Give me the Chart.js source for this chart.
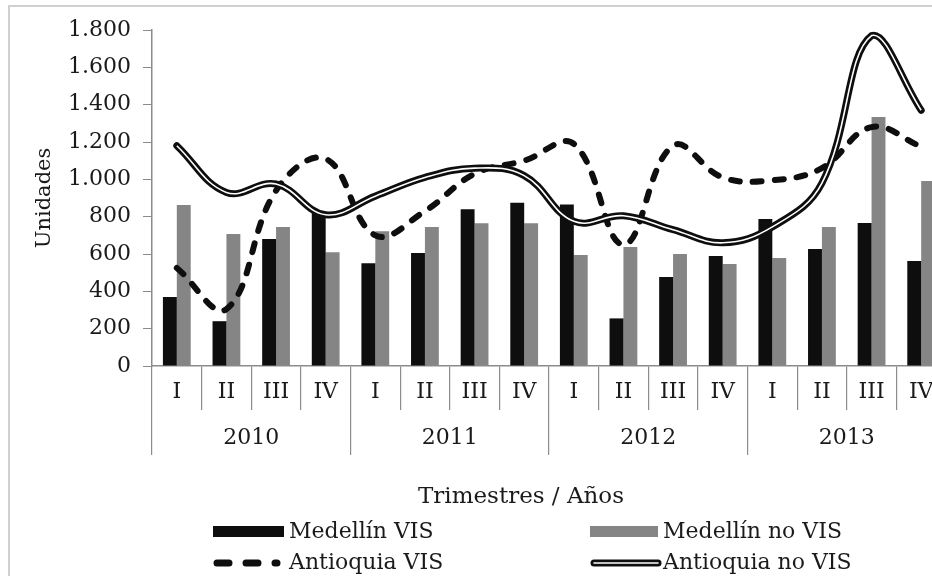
<!DOCTYPE html>
<html lang="es">
<head>
<meta charset="utf-8">
<title>Unidades por trimestre</title>
<script src="https://cdn.jsdelivr.net/npm/chart.js@4.4.1/dist/chart.umd.min.js"></script>
<style>
  html, body { margin: 0; padding: 0; background: #fff; overflow: hidden; }
  #marco { position: absolute; left: 8px; top: 5px; width: 1000px; height: 700px;
           border-left: 2px solid #d0d0d0; border-top: 2px solid #d0d0d0; }
  #wrap { position: absolute; left: 0; top: 0; width: 960px; height: 576px; }
</style>
</head>
<body>
<div id="marco"></div>
<div id="wrap"><canvas id="unidadesChart"></canvas></div>
<script>
const trimestres = ["I", "II", "III", "IV", "I", "II", "III", "IV",
                    "I", "II", "III", "IV", "I", "II", "III", "IV"];
const anios = ["2010", "2011", "2012", "2013"];

const medellinVIS   = [370, 240, 680, 820, 550, 605, 840, 875, 865, 255, 477, 589, 787, 627, 766, 562];
const medellinNoVIS = [862, 707, 745, 610, 722, 745, 765, 765, 595, 638, 600, 546, 579, 745, 1334, 991];
const antioquiaVIS   = [525, 305, 940, 1110, 700, 830, 1030, 1100, 1190, 650, 1180, 1010, 995, 1060, 1280, 1175];
const antioquiaNoVIS = [1180, 930, 975, 810, 910, 1010, 1060, 1020, 775, 805, 730, 660, 745, 980, 1770, 1370];

const NEGRO = "#0e0e0e";
const GRIS = "#858585";
const EJE = "#8c8c8c";
const SERIF = '"DejaVu Serif", "Liberation Serif", serif';

function miles(v) {
  return String(v).replace(/\B(?=(\d{3})+(?!\d))/g, ".");
}

// legend + axis caption are drawn by hand: two columns, two rows
const leyendaInferior = {
  id: "leyendaInferior",
  afterDraw(chart) {
    const ctx = chart.ctx;
    ctx.save();
    ctx.fillStyle = "#1a1a1a";
    ctx.font = "23px " + SERIF;
    ctx.textBaseline = "middle";
    ctx.textAlign = "center";
    ctx.fillText("Trimestres / Años", 521, 497);

    ctx.font = "22px " + SERIF;
    ctx.textAlign = "left";
    // Medellín VIS
    ctx.fillStyle = NEGRO;
    ctx.fillRect(213, 526, 71, 11);
    ctx.fillStyle = "#1a1a1a";
    ctx.fillText("Medellín VIS", 289, 532);
    // Medellín no VIS
    ctx.fillStyle = GRIS;
    ctx.fillRect(590, 526, 68, 11);
    ctx.fillStyle = "#1a1a1a";
    ctx.fillText("Medellín no VIS", 663, 532);
    // Antioquia VIS
    ctx.strokeStyle = NEGRO;
    ctx.lineWidth = 7;
    ctx.lineCap = "round";
    ctx.setLineDash([12, 17]);
    ctx.beginPath();
    ctx.moveTo(217, 563);
    ctx.lineTo(277, 563);
    ctx.stroke();
    ctx.setLineDash([]);
    ctx.fillText("Antioquia VIS", 289, 563);
    // Antioquia no VIS (double line)
    ctx.beginPath();
    ctx.moveTo(594, 563);
    ctx.lineTo(658, 563);
    ctx.stroke();
    ctx.strokeStyle = "#ffffff";
    ctx.lineWidth = 1.6;
    ctx.beginPath();
    ctx.moveTo(594, 563);
    ctx.lineTo(658, 563);
    ctx.stroke();
    ctx.fillText("Antioquia no VIS", 663, 563);
    ctx.restore();
  }
};

const ctx = document.getElementById("unidadesChart").getContext("2d");

new Chart(ctx, {
  type: "bar",
  data: {
    labels: trimestres,
    datasets: [
      {
        label: "Medellín VIS",
        data: medellinVIS,
        backgroundColor: NEGRO,
        categoryPercentage: 0.56,
        barPercentage: 1.0,
        order: 5,
      },
      {
        label: "Medellín no VIS",
        data: medellinNoVIS,
        backgroundColor: GRIS,
        categoryPercentage: 0.56,
        barPercentage: 1.0,
        order: 5,
      },
      {
        type: "line",
        label: "Antioquia VIS",
        data: antioquiaVIS,
        borderColor: NEGRO,
        borderWidth: 6,
        borderDash: [9, 13],
        borderCapStyle: "round",
        tension: 0.4,
        pointRadius: 0,
        order: 3,
      },
      {
        type: "line",
        label: "Antioquia no VIS",
        data: antioquiaNoVIS,
        borderColor: NEGRO,
        borderWidth: 7,
        borderCapStyle: "round",
        tension: 0.4,
        pointRadius: 0,
        order: 2,
      },
      {
        type: "line",
        label: "Antioquia no VIS (centro)",
        data: antioquiaNoVIS,
        borderColor: "#ffffff",
        borderWidth: 1.6,
        tension: 0.4,
        pointRadius: 0,
        order: 1,
      },
    ],
  },
  options: {
    responsive: true,
    maintainAspectRatio: false,
    animation: false,
    layout: {
      padding: { top: 30, right: 14, bottom: 121, left: 8 },
    },
    plugins: {
      legend: { display: false },
      tooltip: { enabled: false },
    },
    scales: {
      y: {
        min: 0,
        max: 1800,
        ticks: {
          stepSize: 200,
          color: "#1a1a1a",
          padding: 12,
          font: { family: SERIF, size: 22 },
          callback: (v) => miles(v),
        },
        grid: { drawOnChartArea: false, tickLength: 9, color: EJE },
        border: { color: EJE, width: 1.5 },
        title: {
          display: true,
          text: "Unidades",
          color: "#1a1a1a",
          font: { family: SERIF, size: 21 },
          padding: { top: 24, bottom: 0 },
        },
        afterFit: (scale) => { scale.width = 144; },
      },
      x: {
        offset: true,
        ticks: {
          color: "#1a1a1a",
          padding: -31,
          maxRotation: 0,
          autoSkip: false,
          font: { family: SERIF, size: 22 },
        },
        grid: { offset: true, drawOnChartArea: false, tickLength: 44, color: EJE, lineWidth: 1.2 },
        border: { color: EJE, width: 1.5 },
        afterFit: (scale) => { scale.height = 44; },
      },
      x2: {
        type: "category",
        position: "bottom",
        labels: anios,
        offset: true,
        ticks: {
          color: "#1a1a1a",
          padding: -30,
          maxRotation: 0,
          font: { family: SERIF, size: 22 },
        },
        grid: { offset: true, drawOnChartArea: false, tickLength: 45, color: EJE, lineWidth: 1.2 },
        border: { display: false },
        afterFit: (scale) => { scale.height = 45; },
      },
    },
  },
  plugins: [leyendaInferior],
});
</script>
</body>
</html>
